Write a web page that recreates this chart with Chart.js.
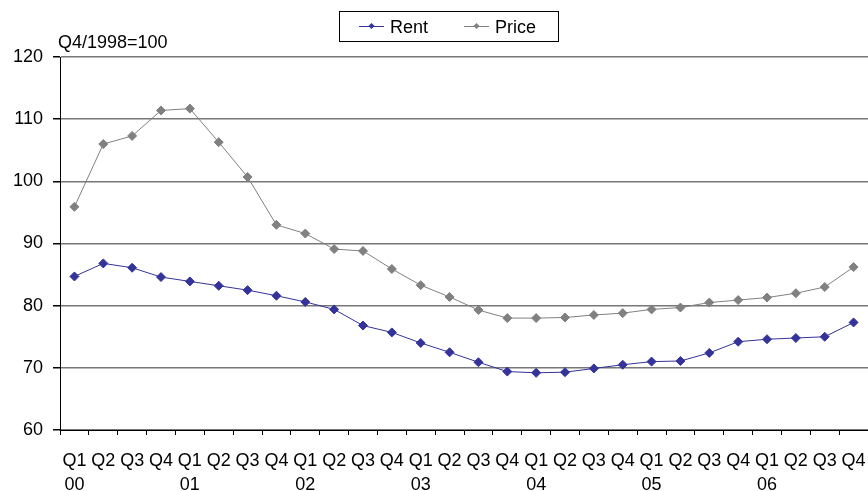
<!DOCTYPE html>
<html>
<head>
<meta charset="utf-8">
<script src="https://cdn.jsdelivr.net/npm/chart.js@4"></script>
<style>
    body { margin: 0; background: #fff; }
    #chart { display: block; }
</style>
</head>
<body>
<canvas id="chart" width="868" height="491"></canvas>
<script>
// 데이터
const quarters = ['Q1', 'Q2', 'Q3', 'Q4'];
const years = ['00', '01', '02', '03', '04', '05', '06'];
const rent = [84.7, 86.8, 86.1, 84.6, 83.9, 83.2, 82.5, 81.6, 80.6, 79.4, 76.8, 75.7, 74.0, 72.5,
    70.9, 69.4, 69.2, 69.3, 69.9, 70.5, 71.0, 71.1, 72.4, 74.2, 74.6, 74.8, 75.0, 77.3];
const price = [95.9, 106.0, 107.3, 111.4, 111.7, 106.3, 100.7, 93.0, 91.6, 89.1, 88.8, 85.9, 83.3, 81.4,
    79.3, 78.0, 78.0, 78.1, 78.5, 78.8, 79.4, 79.7, 80.5, 80.9, 81.3, 82.0, 83.0, 86.2];
const yTicks = [60, 70, 80, 90, 100, 110, 120];
const unitLabel = 'Q4/1998=100';

const labels = [];
years.forEach(y => quarters.forEach((q, i) => labels.push([q, i === 0 ? y : ''])));

const FONT = 'Liberation Sans, Arial, sans-serif';
const RENT_COLOR = '#333399';
const PRICE_COLOR = '#808080';

// 범례 + 단위 표시
const legendBox = {
    id: 'legendBox',
    afterDraw(chart) {
        const ctx = chart.ctx;
        ctx.save();
        ctx.font = '18px ' + FONT;
        ctx.fillStyle = '#000';
        ctx.textBaseline = 'alphabetic';
        ctx.fillText(unitLabel, 58, 48);

        ctx.strokeStyle = '#000';
        ctx.lineWidth = 1;
        ctx.strokeRect(339.5, 11.5, 219, 30);

        const items = [
            { text: 'Rent', color: RENT_COLOR, x: 359 },
            { text: 'Price', color: PRICE_COLOR, x: 464 }
        ];
        items.forEach(it => {
            const cy = 26;
            ctx.strokeStyle = it.color;
            ctx.beginPath();
            ctx.moveTo(it.x, cy + 0.5);
            ctx.lineTo(it.x + 25, cy + 0.5);
            ctx.stroke();
            ctx.fillStyle = it.color;
            ctx.beginPath();
            const cx = it.x + 12.5;
            ctx.moveTo(cx, cy - 3);
            ctx.lineTo(cx + 3, cy);
            ctx.lineTo(cx, cy + 3);
            ctx.lineTo(cx - 3, cy);
            ctx.closePath();
            ctx.fill();
            ctx.fillStyle = '#000';
            ctx.fillText(it.text, it.x + 31, 33);
        });
        ctx.restore();
    }
};

// 차트
const chart = new Chart(document.getElementById('chart'), {
    type: 'line',
    data: {
        labels: labels,
        datasets: [{
            label: 'Rent',
            data: rent,
            borderColor: RENT_COLOR,
            backgroundColor: RENT_COLOR,
            borderWidth: 1,
            pointStyle: 'rectRot',
            pointRadius: 4.5,
            pointBorderWidth: 1,
            tension: 0,
            clip: false
        }, {
            label: 'Price',
            data: price,
            borderColor: PRICE_COLOR,
            backgroundColor: PRICE_COLOR,
            borderWidth: 1,
            pointStyle: 'rectRot',
            pointRadius: 4.5,
            pointBorderWidth: 1,
            tension: 0,
            clip: false
        }]
    },
    options: {
        responsive: false,
        animation: false,
        layout: { autoPadding: false, padding: { top: 57, left: 0, right: 0, bottom: 0 } },
        plugins: {
            legend: { display: false },
            tooltip: { enabled: false }
        },
        scales: {
            x: {
                offset: true,
                border: { color: '#000', width: 1 },
                grid: {
                    offset: true,
                    drawOnChartArea: false,
                    drawTicks: true,
                    tickLength: 5,
                    tickColor: '#000'
                },
                ticks: {
                    autoSkip: false,
                    maxRotation: 0,
                    minRotation: 0,
                    padding: 14,
                    color: '#000',
                    font: { family: FONT, size: 18, lineHeight: 1.35 }
                },
                afterFit(scale) {
                    scale.height = 61;
                    scale.paddingLeft = 0;
                    scale.paddingRight = 0;
                }
            },
            y: {
                min: 60,
                max: 120,
                border: { color: '#000', width: 1 },
                grid: {
                    color: '#777',
                    lineWidth: 1.5,
                    tickLength: 7,
                    tickColor: '#000'
                },
                afterBuildTicks(scale) {
                    scale.ticks = yTicks.map(v => ({ value: v }));
                },
                ticks: {
                    padding: 10,
                    color: '#000',
                    font: { family: FONT, size: 18 }
                },
                afterFit(scale) {
                    scale.width = 60;
                    scale.paddingTop = 0;
                    scale.paddingBottom = 0;
                }
            }
        }
    },
    plugins: [legendBox]
});
</script>
</body>
</html>
